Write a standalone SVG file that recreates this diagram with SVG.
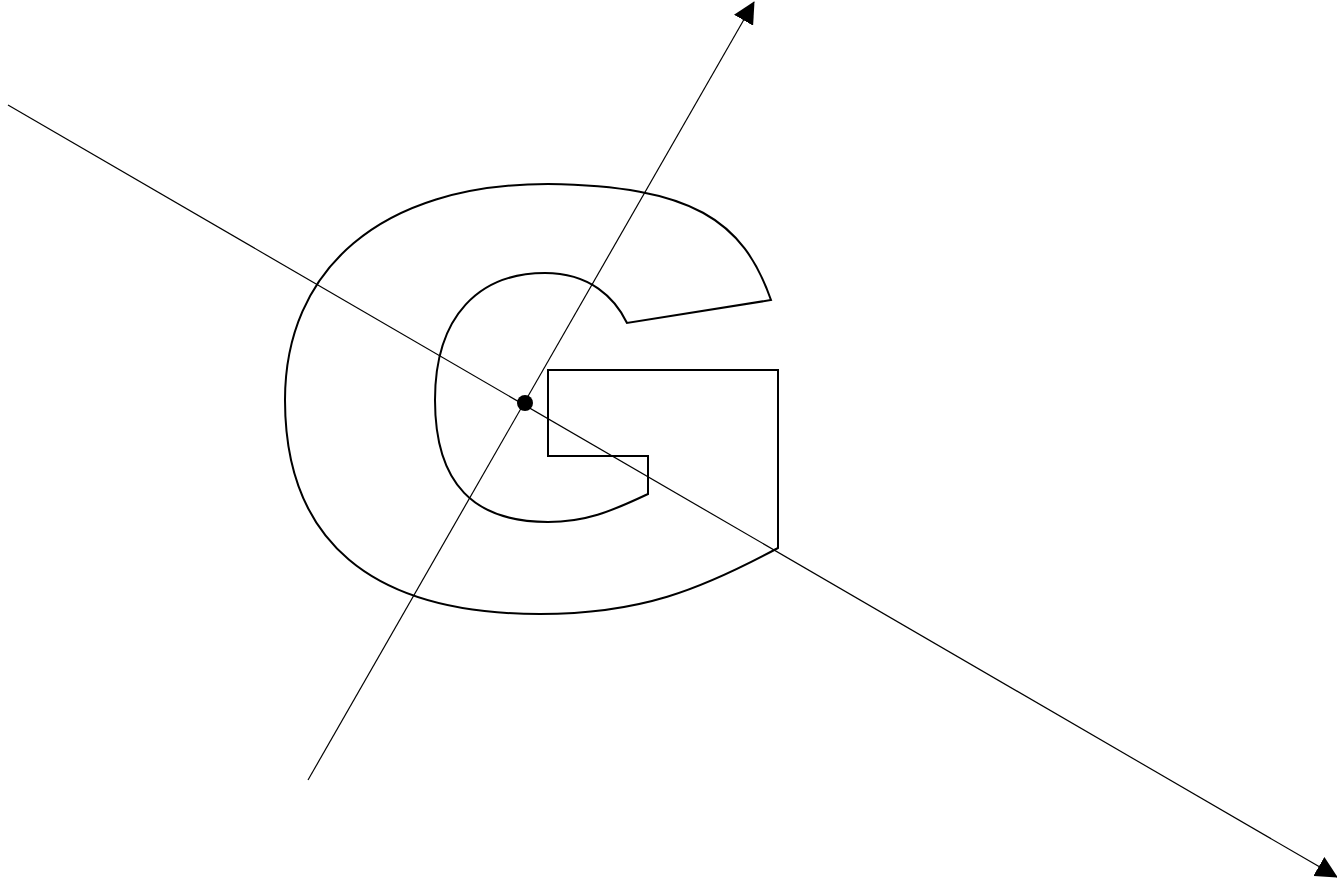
<svg xmlns="http://www.w3.org/2000/svg" width="1337" height="880" viewBox="0 0 1337 880">
<style>
.axis{stroke:#000;stroke-width:1.2;fill:none}
.g{stroke:#000;stroke-width:2;fill:none;stroke-linejoin:miter}
</style>
<defs>
<marker id="ah" markerWidth="22" markerHeight="22" viewBox="0 0 22 22" refX="21" refY="11" orient="auto" markerUnits="userSpaceOnUse">
<path d="M0,0 L22,11 L0,22 Z" fill="#000"/>
</marker>
</defs>
<rect width="1337" height="880" fill="#fff"/>
<g id="shape-G">
<path class="g" d="M771,300 C743,220 692,186 548,184 C380,184 285,270 285,400 C285,540 370,614 540,614 C640,614 700,590 778,548 L778,370 L548,370 L548,456 L648,456 L648,494 C610,512 585,522 548,522 C475,522 435,485 435,400 C435,315 480,273 545,273 C590,273 615,298 627,323 Z"/>
</g>
<g id="connectors">
<line class="axis" x1="8" y1="105" x2="1337" y2="877" marker-end="url(#ah)"/>
<line class="axis" x1="308" y1="780" x2="754" y2="2" marker-end="url(#ah)"/>
</g>
<g id="origin">
<circle cx="525" cy="403" r="8" fill="#000"/>
</g>
</svg>
